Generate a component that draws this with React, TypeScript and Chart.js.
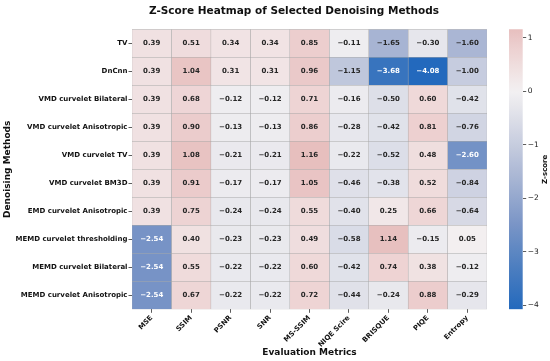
import React, { useEffect, useRef } from 'react';
import { Chart, registerables } from 'chart.js';

Chart.register(...registerables);

// ---------- data ----------
const metrics = ['MSE', 'SSIM', 'PSNR', 'SNR', 'MS-SSIM', 'NIQE Scire', 'BRISQUE', 'PIQE', 'Entropy'];
const methods = [
  'TV',
  'DnCnn',
  'VMD curvelet Bilateral',
  'VMD curvelet Anisotropic',
  'VMD curvelet TV',
  'VMD curvelet BM3D',
  'EMD curvelet Anisotropic',
  'MEMD curvelet thresholding',
  'MEMD curvelet Bilateral',
  'MEMD curvelet Anisotropic',
];
const rowTV = [0.39, 0.51, 0.34, 0.34, 0.85, -0.11, -1.65, -0.3, -1.6];
const rowDnCnn = [0.39, 1.04, 0.31, 0.31, 0.96, -1.15, -3.68, -4.08, -1.0];
const rowVmdBilateral = [0.39, 0.68, -0.12, -0.12, 0.71, -0.16, -0.5, 0.6, -0.42];
const rowVmdAniso = [0.39, 0.9, -0.13, -0.13, 0.86, -0.28, -0.42, 0.81, -0.76];
const rowVmdTV = [0.39, 1.08, -0.21, -0.21, 1.16, -0.22, -0.52, 0.48, -2.6];
const rowVmdBM3D = [0.39, 0.91, -0.17, -0.17, 1.05, -0.46, -0.38, 0.52, -0.84];
const rowEmdAniso = [0.39, 0.75, -0.24, -0.24, 0.55, -0.4, 0.25, 0.66, -0.64];
const rowMemdThresh = [-2.54, 0.4, -0.23, -0.23, 0.49, -0.58, 1.14, -0.15, 0.05];
const rowMemdBilateral = [-2.54, 0.55, -0.22, -0.22, 0.6, -0.42, 0.74, 0.38, -0.12];
const rowMemdAniso = [-2.54, 0.67, -0.22, -0.22, 0.72, -0.44, -0.24, 0.88, -0.29];
const zRows = [
  rowTV, rowDnCnn, rowVmdBilateral, rowVmdAniso, rowVmdTV,
  rowVmdBM3D, rowEmdAniso, rowMemdThresh, rowMemdBilateral, rowMemdAniso,
];
const colorbarTicks = [1, 0, -1, -2, -3, -4];

// ---------- styling helpers ----------
const FONT = "'DejaVu Sans', sans-serif";
const allVals = zRows.flat();
const vMin = Math.min(...allVals);
const vMax = Math.max(...allVals);
const vRange = Math.max(Math.abs(vMin), Math.abs(vMax));

const cmapStops: [number, number, number, number][] = [
  [0.0, 35, 105, 189],
  [0.1, 78, 127, 192],
  [0.2, 124, 150, 199],
  [0.3, 168, 181, 211],
  [0.4, 207, 211, 226],
  [0.5, 243, 241, 242],
  [0.6, 237, 208, 208],
  [0.7, 222, 167, 166],
  [0.8, 206, 128, 127],
  [0.9, 188, 91, 92],
  [1.0, 169, 55, 59],
];

function cmapRGB(t: number): [number, number, number] {
  const tt = Math.max(0, Math.min(1, t));
  for (let k = 1; k < cmapStops.length; k++) {
    const a = cmapStops[k - 1];
    const b = cmapStops[k];
    if (tt <= b[0]) {
      const f = (tt - a[0]) / (b[0] - a[0]);
      return [a[1] + (b[1] - a[1]) * f, a[2] + (b[2] - a[2]) * f, a[3] + (b[3] - a[3]) * f];
    }
  }
  const l = cmapStops[cmapStops.length - 1];
  return [l[1], l[2], l[3]];
}
function rgbFor(v: number) {
  return cmapRGB(0.5 + v / (2 * vRange));
}
function colorFor(v: number) {
  const [r, g, b] = rgbFor(v);
  return `rgb(${Math.round(r)},${Math.round(g)},${Math.round(b)})`;
}
function textColorFor(v: number) {
  const lin = (c: number) => {
    const s = c / 255;
    return s <= 0.03928 ? s / 12.92 : Math.pow((s + 0.055) / 1.055, 2.4);
  };
  const [r, g, b] = rgbFor(v);
  const lum = 0.2126 * lin(r) + 0.7152 * lin(g) + 0.0722 * lin(b);
  return lum > 0.408 ? '#262626' : '#ffffff';
}
const fmt = (v: number) => v.toFixed(2).replace('-', '\u2212');
const fmtTick = (v: number) => String(v).replace('-', '\u2212');

const cellLabels = {
  id: 'cellLabels',
  afterDatasetsDraw(chart: any) {
    const c = chart.ctx;
    c.save();
    c.font = `bold 7px ${FONT}`;
    c.textAlign = 'center';
    c.textBaseline = 'middle';
    chart.data.datasets.forEach((_ds: any, j: number) => {
      const meta = chart.getDatasetMeta(j);
      meta.data.forEach((el: any, i: number) => {
        const v = zRows[i][j];
        const p = el.getCenterPoint();
        c.fillStyle = textColorFor(v);
        c.fillText(fmt(v), p.x, p.y);
      });
    });
    c.restore();
  },
};

const zLabel = {
  id: 'zLabel',
  afterDraw(chart: any) {
    const a = chart.chartArea;
    const c = chart.ctx;
    c.save();
    c.translate(55, (a.top + a.bottom) / 2);
    c.rotate(-Math.PI / 2);
    c.font = `bold 7px ${FONT}`;
    c.fillStyle = '#111';
    c.textAlign = 'center';
    c.textBaseline = 'middle';
    c.fillText('Z-score', 0, 0);
    c.restore();
  },
};

export default function App() {
  const mainRef = useRef<HTMLCanvasElement>(null);
  const cbRef = useRef<HTMLCanvasElement>(null);

  useEffect(() => {
    document.body.style.margin = '0';
    const datasets = metrics.map((m, j) => ({
      label: m,
      data: methods.map(() => [j, j + 1]),
      backgroundColor: zRows.map((r) => colorFor(r[j])),
      borderColor: '#a8a8a8',
      borderWidth: 0.5,
      borderSkipped: false,
      barPercentage: 1,
      categoryPercentage: 1,
      grouped: false,
    }));

    const main = new Chart(mainRef.current as HTMLCanvasElement, {
      type: 'bar',
      data: { labels: methods, datasets: datasets as any },
      plugins: [cellLabels],
      options: {
        indexAxis: 'y',
        animation: false,
        responsive: false,
        devicePixelRatio: 1,
        layout: { padding: 0 },
        scales: {
          x: {
            type: 'linear',
            position: 'bottom',
            min: 0,
            max: 9,
            afterBuildTicks: (s: any) => {
              s.ticks = metrics.map((_m, j) => ({ value: j + 0.5 }));
            },
            afterFit: (s: any) => {
              s.height = 51.7;
            },
            ticks: {
              autoSkip: false,
              minRotation: 45,
              maxRotation: 45,
              padding: 1,
              color: '#111',
              font: { family: FONT, size: 7, weight: 'bold' },
              callback: (v: any) => metrics[Math.floor(Number(v))],
            },
            grid: { drawOnChartArea: false, tickLength: 3.5, color: '#333', lineWidth: 0.8 },
            border: { display: false },
            title: {
              display: true,
              text: 'Evaluation Metrics',
              color: '#111',
              font: { family: FONT, size: 9, weight: 'bold' },
              padding: { top: 0, bottom: 2.6 },
            },
          },
          y: {
            type: 'category',
            position: 'left',
            afterFit: (s: any) => {
              s.width = 132;
            },
            ticks: {
              autoSkip: false,
              padding: 1,
              color: '#111',
              font: { family: FONT, size: 7, weight: 'bold' },
            },
            grid: { drawOnChartArea: false, offset: false, tickLength: 3.5, color: '#333', lineWidth: 0.8 },
            border: { display: false },
            title: {
              display: true,
              text: 'Denoising Methods',
              color: '#111',
              font: { family: FONT, size: 9, weight: 'bold' },
              padding: { top: 2, bottom: 0 },
            },
          },
          yR: {
            type: 'linear',
            position: 'right',
            min: 0,
            max: 1,
            afterFit: (s: any) => {
              s.width = 101;
            },
            ticks: { display: false },
            grid: { display: false },
            border: { display: false },
          },
        },
        plugins: {
          legend: { display: false },
          tooltip: { enabled: false },
          title: {
            display: true,
            text: 'Z-Score Heatmap of Selected Denoising Methods',
            color: '#111',
            font: { family: FONT, size: 10.5, weight: 'bold' },
            padding: { top: 4.7, bottom: 12 },
          },
        },
      } as any,
    });

    const cb = new Chart(cbRef.current as HTMLCanvasElement, {
      type: 'bar',
      data: {
        labels: [''],
        datasets: [
          {
            data: [[vMin, vMax]] as any,
            backgroundColor: (ctx: any) => {
              const chart = ctx.chart;
              if (!chart.chartArea) return colorFor(0);
              const ys = chart.scales.y;
              const y0 = ys.getPixelForValue(vMin);
              const y1 = ys.getPixelForValue(vMax);
              const g = chart.ctx.createLinearGradient(0, y0, 0, y1);
              const n = 40;
              for (let k = 0; k <= n; k++) {
                g.addColorStop(k / n, colorFor(vMin + ((vMax - vMin) * k) / n));
              }
              return g;
            },
            borderWidth: 0,
            barPercentage: 1,
            categoryPercentage: 1,
          },
        ],
      },
      plugins: [zLabel],
      options: {
        animation: false,
        responsive: false,
        devicePixelRatio: 1,
        layout: { padding: { left: 19, top: 29.3, bottom: 51.7, right: 0 } },
        scales: {
          x: { display: false },
          y: {
            type: 'linear',
            position: 'right',
            min: vMin,
            max: vMax,
            afterBuildTicks: (s: any) => {
              s.ticks = colorbarTicks.map((v) => ({ value: v }));
            },
            afterFit: (s: any) => {
              s.width = 27.3;
            },
            ticks: {
              padding: 1.5,
              color: '#222',
              font: { family: FONT, size: 7.5 },
              callback: (v: any) => fmtTick(Number(v)),
            },
            grid: { drawOnChartArea: false, tickLength: 3.5, color: '#333', lineWidth: 0.8 },
            border: { display: false },
          },
        },
        plugins: {
          legend: { display: false },
          tooltip: { enabled: false },
        },
      } as any,
    });

    return () => {
      main.destroy();
      cb.destroy();
    };
  }, []);

  return (
    <div
      style={{
        position: 'fixed',
        left: 0,
        top: 0,
        width: 550,
        height: 361,
        overflow: 'hidden',
        background: '#ffffff',
      }}
    >
      <canvas
        ref={mainRef}
        width={588}
        height={361}
        style={{ position: 'absolute', left: 0, top: 0, width: 588, height: 361 }}
      />
      <canvas
        ref={cbRef}
        width={60}
        height={361}
        style={{ position: 'absolute', left: 490, top: 0, width: 60, height: 361 }}
      />
    </div>
  );
}
